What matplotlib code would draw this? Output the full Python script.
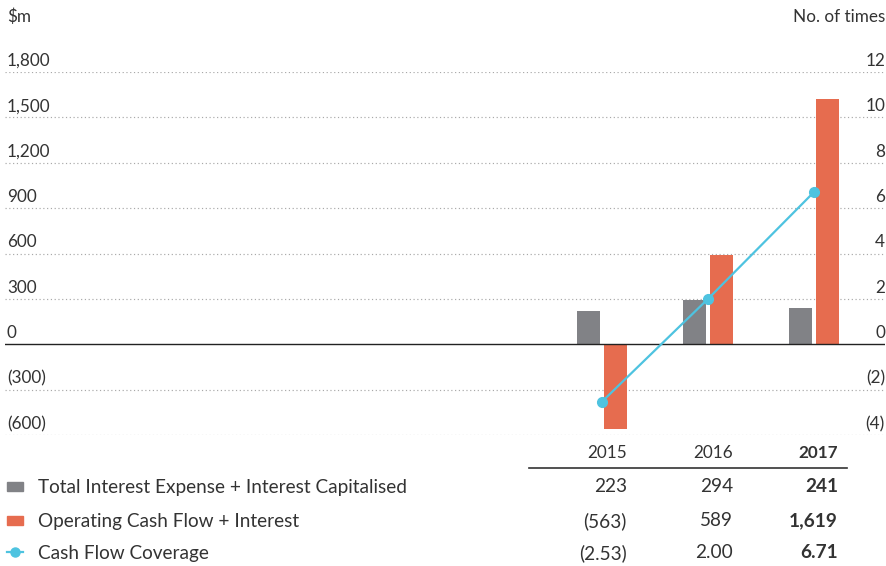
import matplotlib
matplotlib.use("Agg")
import matplotlib.pyplot as plt
from matplotlib.transforms import blended_transform_factory
from matplotlib.lines import Line2D
from matplotlib.patches import Rectangle

plt.rcParams['font.family'] = ['Lato', 'DejaVu Sans']

years = ["2015", "2016", "2017"]
interest = [223, 294, 241]
cashflow = [-563, 589, 1619]
coverage = [-2.53, 2.00, 6.71]
left_ticks = [-600, -300, 0, 300, 600, 900, 1200, 1500, 1800]
left_labels = ["(600)", "(300)", "0", "300", "600", "900", "1,200", "1,500", "1,800"]
right_labels = ["(4)", "(2)", "0", "2", "4", "6", "8", "10", "12"]
series_names = ["Total Interest Expense + Interest Capitalised",
                "Operating Cash Flow + Interest",
                "Cash Flow Coverage"]
row_values = [["223", "294", "241"],
              ["(563)", "589", "1,619"],
              ["(2.53)", "2.00", "6.71"]]

GRAY = "#818286"
ORANGE = "#E66C4F"
CYAN = "#4EC3E0"
TXT = "#333333"

W, H = 887, 566
fig = plt.figure(figsize=(W / 100, H / 100), dpi=100)

def fx(px):
    return px / W

def fy(py):
    return 1 - py / H

ax_left, ax_right, ax_top, ax_bot = 5, 885, 72, 435
ax = fig.add_axes([fx(ax_left), fy(ax_bot), fx(ax_right - ax_left), (ax_bot - ax_top) / H])
ax2 = ax.twinx()

xs = [0, 1, 2]
span = 106.0
xmin = 2 - (814 - ax_left) / span
xmax = 2 + (ax_right - 814) / span
bw = 23 / span
off = 13.5 / span

ax.bar([x - off for x in xs], interest, width=bw, color=GRAY, zorder=3)
ax.bar([x + off for x in xs], cashflow, width=bw, color=ORANGE, zorder=3)

ax.set_xlim(xmin, xmax)
ax.set_ylim(-600, 1800)
ax2.set_ylim(-4, 12)
ax2.plot(xs, coverage, color=CYAN, lw=1.6, marker="o", ms=7, zorder=5)

for a in (ax, ax2):
    for s in a.spines.values():
        s.set_visible(False)
    a.set_xticks([])
    a.set_yticks([])
ax.set_zorder(ax2.get_zorder() - 1)
ax2.patch.set_visible(False)

for v in left_ticks:
    if v == 0:
        ax.axhline(v, color="#222222", lw=1.0, zorder=4)
    else:
        ax.axhline(v, color="#a8a8a8", lw=0.85, ls=(0, (1, 2.2)), zorder=1)

tr = blended_transform_factory(fig.transFigure, ax.transData)
for v, ll, rl in zip(left_ticks, left_labels, right_labels):
    ax.text(fx(7), v + 40, ll, transform=tr, ha="left", va="baseline",
            fontsize=12.3, color=TXT)
    ax.text(fx(885), v + 40, rl, transform=tr, ha="right", va="baseline",
            fontsize=12.3, color=TXT)

fig.text(fx(7), fy(17), "$m", ha="left", va="center", fontsize=12.3, color=TXT)
fig.text(fx(885), fy(17), "No. of times", ha="right", va="center", fontsize=12.3, color=TXT)

# table
col_right = [627, 733, 838]
for i, y in enumerate(years):
    fig.text(fx(col_right[i]), fy(453), y, ha="right", va="center", fontsize=12.3,
             color=TXT, fontweight="bold" if i == 2 else "normal")
fig.add_artist(Line2D([fx(529), fx(847)], [fy(468), fy(468)], color="#333333", lw=1.2,
                      transform=fig.transFigure))

row_y = [487, 521, 553]
for r, (name, vals, yy) in enumerate(zip(series_names, row_values, row_y)):
    fig.text(fx(38), fy(yy), name, ha="left", va="center", fontsize=13.7, color=TXT)
    for i, v in enumerate(vals):
        fig.text(fx(col_right[i]), fy(yy), v, ha="right", va="center", fontsize=13.7,
                 color=TXT, fontweight="bold" if i == 2 else "normal")

fig.add_artist(Rectangle((fx(7), fy(491)), fx(16), 9 / H, color=GRAY, transform=fig.transFigure))
fig.add_artist(Rectangle((fx(7), fy(525)), fx(16), 9 / H, color=ORANGE, transform=fig.transFigure))
fig.add_artist(Line2D([fx(7), fx(23)], [fy(552), fy(552)], color=CYAN, lw=1.6,
                      transform=fig.transFigure))
fig.add_artist(Line2D([fx(15)], [fy(552)], color=CYAN, marker="o", ms=6.5, lw=0,
                      transform=fig.transFigure))

fig.savefig("out.png", dpi=100)
